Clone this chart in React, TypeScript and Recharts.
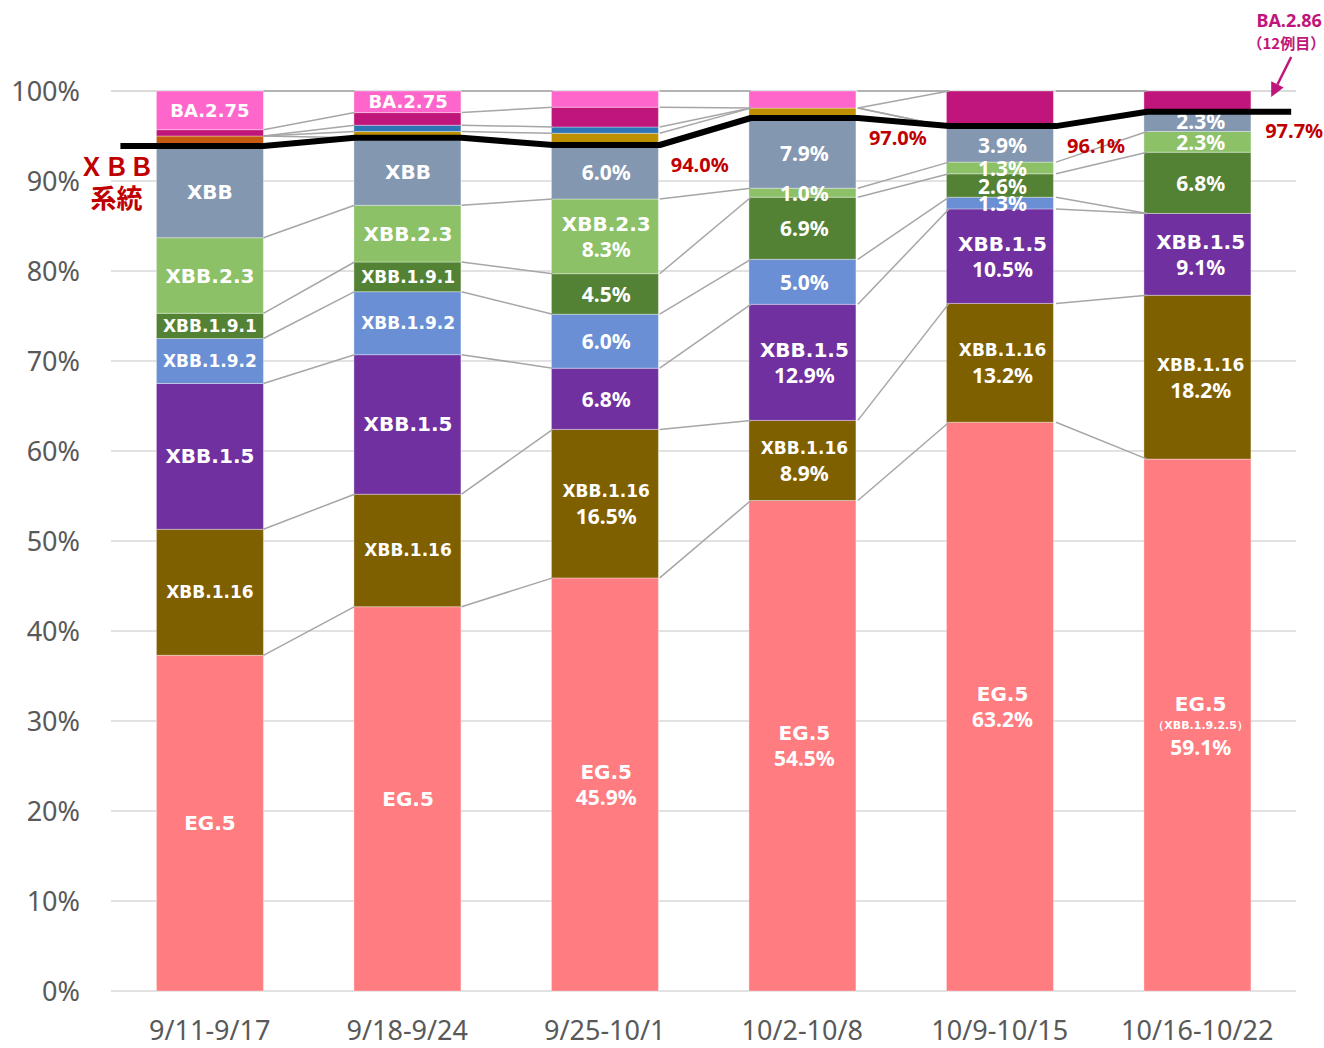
import React from 'react';
import { BarChart, Bar, XAxis, YAxis, CartesianGrid } from 'recharts';

const categories = ['9/11-9/17', '9/18-9/24', '9/25-10/1', '10/2-10/8', '10/9-10/15', '10/16-10/22'];

const eg5 = [37.3, 42.7, 45.9, 54.5, 63.2, 59.1];
const xbb116 = [14.0, 12.5, 16.5, 8.9, 13.2, 18.2];
const xbb15 = [16.2, 15.5, 6.8, 12.9, 10.5, 9.1];
const xbb192 = [5.0, 7.0, 6.0, 5.0, 1.3, 0];
const xbb191 = [2.8, 3.3, 4.5, 6.9, 2.6, 6.8];
const xbb23 = [8.4, 6.3, 8.3, 1.0, 1.3, 2.3];
const xbbBase = [10.2, 7.5, 6.0, 7.9, 3.9, 2.3];
const otherOrange = [1.1, 0, 0, 0, 0, 0];
const otherGold = [0, 0.7, 1.3, 1.0, 0, 0];
const otherBlue = [0, 0.7, 0.7, 0, 0, 0];
const otherMagenta = [0.7, 1.4, 2.2, 0, 4.0, 2.2];
const ba275 = [4.3, 2.4, 1.8, 1.9, 0, 0];

const xbbTotal = [93.9, 94.8, 94.0, 97.0, 96.1, 97.7];
const xbbTotalLabels = ['', '', '94.0%', '97.0%', '96.1%', '97.7%'];

const eg5Labels = ['EG.5', 'EG.5', 'EG.5\n45.9%', 'EG.5\n54.5%', 'EG.5\n63.2%', 'EG.5\n（XBB.1.9.2.5）\n59.1%'];
const xbb116Labels = ['XBB.1.16', 'XBB.1.16', 'XBB.1.16\n16.5%', 'XBB.1.16\n8.9%', 'XBB.1.16\n13.2%', 'XBB.1.16\n18.2%'];
const xbb15Labels = ['XBB.1.5', 'XBB.1.5', '6.8%', 'XBB.1.5\n12.9%', 'XBB.1.5\n10.5%', 'XBB.1.5\n9.1%'];
const xbb192Labels = ['XBB.1.9.2', 'XBB.1.9.2', '6.0%', '5.0%', '1.3%', ''];
const xbb191Labels = ['XBB.1.9.1', 'XBB.1.9.1', '4.5%', '6.9%', '2.6%', '6.8%'];
const xbb23Labels = ['XBB.2.3', 'XBB.2.3', 'XBB.2.3\n8.3%', '1.0%', '1.3%', '2.3%'];
const xbbLabels = ['XBB', 'XBB', '6.0%', '7.9%', '3.9%', '2.3%'];
const ba275Labels = ['BA.2.75', 'BA.2.75', '', '', '', ''];
const emptyLabels = ['', '', '', '', '', ''];

const yTicks = [0, 10, 20, 30, 40, 50, 60, 70, 80, 90, 100];

const xbbSystemLabel = ['ＸＢＢ', '系統'];
const ba286Label = ['BA.2.86', '（12例目）'];

const series = [
  { key: 'eg5', values: eg5, color: '#FF7C80', labels: eg5Labels },
  { key: 'xbb116', values: xbb116, color: '#7F6000', labels: xbb116Labels },
  { key: 'xbb15', values: xbb15, color: '#7030A0', labels: xbb15Labels },
  { key: 'xbb192', values: xbb192, color: '#6A8FD4', labels: xbb192Labels },
  { key: 'xbb191', values: xbb191, color: '#548235', labels: xbb191Labels },
  { key: 'xbb23', values: xbb23, color: '#8CC168', labels: xbb23Labels },
  { key: 'xbb', values: xbbBase, color: '#8497B0', labels: xbbLabels },
  { key: 'orange', values: otherOrange, color: '#C55A11', labels: emptyLabels },
  { key: 'gold', values: otherGold, color: '#BF9000', labels: emptyLabels },
  { key: 'blue', values: otherBlue, color: '#2E75B6', labels: emptyLabels },
  { key: 'magenta', values: otherMagenta, color: '#C0157A', labels: emptyLabels },
  { key: 'ba275', values: ba275, color: '#FF66CC', labels: ba275Labels },
];

const data = categories.map((cat, i) => {
  const row: any = { cat, total: xbbTotal[i] };
  series.forEach((s) => {
    row[s.key] = s.values[i];
  });
  return row;
});

const GAP = 0.23;
const PCT_FONT = "'Noto Sans', 'DejaVu Sans', sans-serif";
const NAME_FONT = "'DejaVu Sans', 'Noto Sans', sans-serif";
const CJK_FONT = "'Noto Sans CJK JP', 'Noto Sans', sans-serif";

function lineStyle(line: string) {
  if (line.startsWith('（')) return { size: 11, lh: 18, font: NAME_FONT };
  if (line.endsWith('%')) return { size: 21, lh: 25, font: PCT_FONT };
  if (line.startsWith('BA')) return { size: 18, lh: 25, font: NAME_FONT };
  if (line.length >= 8) return { size: 17, lh: 25, font: NAME_FONT };
  return { size: 20, lh: 25, font: NAME_FONT };
}

const Overlay = (props: any) => {
  const { x, y, width, height, index } = props;
  if (index !== 0 || !height) return null;
  const n = categories.length;
  const k = height / xbbTotal[0];
  const y0 = y + height;
  const band = width / (1 - 2 * GAP);
  const Y = (v: number) => y0 - v * k;
  const L = (i: number) => x + i * band;
  const R = (i: number) => x + i * band + width;

  const els: any[] = [];

  // connector lines
  const cum: number[][] = [];
  for (let i = 0; i < n; i++) {
    let c = 0;
    cum.push(series.map((s) => (c += s.values[i])));
  }
  series.forEach((s, si) => {
    for (let i = 0; i < n - 1; i++) {
      els.push(
        <line
          key={`c-${si}-${i}`}
          x1={R(i)}
          y1={Y(cum[i][si])}
          x2={L(i + 1)}
          y2={Y(cum[i + 1][si])}
          stroke="#A6A6A6"
          strokeWidth={1.5}
        />
      );
    }
  });

  // segment labels
  series.forEach((s, si) => {
    for (let i = 0; i < n; i++) {
      const text = s.labels[i];
      if (!text) continue;
      const lines = text.split('\n');
      const styles = lines.map(lineStyle);
      const total = styles.reduce((a, b) => a + b.lh, 0);
      const bottom = si === 0 ? 0 : cum[i][si - 1];
      const cy = Y(bottom + s.values[i] / 2);
      let cur = cy - total / 2;
      const cx = L(i) + width / 2;
      lines.forEach((ln, li) => {
        const st = styles[li];
        const ty = cur + st.lh / 2;
        cur += st.lh;
        els.push(
          <text
            key={`t-${si}-${i}-${li}`}
            x={cx}
            y={ty}
            textAnchor="middle"
            dominantBaseline="central"
            fill="#FFFFFF"
            fontFamily={st.font}
            fontWeight={700}
            fontSize={st.size}
          >
            {ln}
          </text>
        );
      });
    }
  });

  // XBB lineage black line
  const pts: string[] = [];
  for (let i = 0; i < n; i++) {
    const yy = Y(xbbTotal[i]);
    pts.push(`${i === 0 ? L(i) - 36 : L(i)},${yy}`);
    pts.push(`${i === n - 1 ? R(i) + 37 : R(i)},${yy}`);
  }
  els.push(
    <polyline key="xbbline" points={pts.join(' ')} fill="none" stroke="#000000" strokeWidth={6} strokeLinejoin="round" />
  );

  // total labels
  for (let i = 0; i < n; i++) {
    if (!xbbTotalLabels[i]) continue;
    els.push(
      <text
        key={`tot-${i}`}
        x={R(i) + 40}
        y={Y(xbbTotal[i]) + 19}
        textAnchor="middle"
        dominantBaseline="central"
        fill="#C00000"
        fontFamily={PCT_FONT}
        fontWeight={700}
        fontSize={20}
      >
        {xbbTotalLabels[i]}
      </text>
    );
  }

  // XBB系統 label
  const y1 = Y(xbbTotal[0]);
  els.push(
    <text key="sys1" x={L(0) - 40} y={y1 + 19} textAnchor="middle" dominantBaseline="central" fill="#C00000" fontFamily={CJK_FONT} fontWeight={700} fontSize={25}>
      {xbbSystemLabel[0]}
    </text>
  );
  els.push(
    <text key="sys2" x={L(0) - 40} y={y1 + 51} textAnchor="middle" dominantBaseline="central" fill="#C00000" fontFamily={CJK_FONT} fontWeight={700} fontSize={26}>
      {xbbSystemLabel[1]}
    </text>
  );

  // BA.2.86 annotation
  const top = Y(100);
  const ax = R(n - 1);
  const mag = '#C0157A';
  els.push(
    <text key="ba1" x={ax + 35} y={top - 71} textAnchor="middle" dominantBaseline="central" fill={mag} fontFamily={PCT_FONT} fontWeight={700} fontSize={18}>
      {ba286Label[0]}
    </text>
  );
  els.push(
    <text key="ba2" x={ax + 71} y={top - 49} textAnchor="end" dominantBaseline="central" fill={mag} fontFamily={CJK_FONT} fontWeight={700} fontSize={15}>
      {ba286Label[1]}
    </text>
  );
  const sx = ax + 37, sy = top - 34, tx = ax + 17, ty = top + 6;
  const dx = tx - sx, dy = ty - sy;
  const len = Math.sqrt(dx * dx + dy * dy);
  const ux = dx / len, uy = dy / len;
  const hl = 14, hw = 7;
  const bx = tx - ux * hl, by = ty - uy * hl;
  els.push(<line key="arr" x1={sx} y1={sy} x2={bx} y2={by} stroke={mag} strokeWidth={2.5} />);
  els.push(
    <polygon
      key="arrh"
      points={`${tx},${ty} ${bx - uy * hw},${by + ux * hw} ${bx + uy * hw},${by - ux * hw}`}
      fill={mag}
    />
  );

  return <g>{els}</g>;
};

export default function App() {
  return (
    <div style={{ position: 'absolute', left: 0, top: 0, width: 1324, height: 1048 }}>
      <BarChart
        width={1324}
        height={1048}
        data={data}
        margin={{ top: 91, right: 28, left: 0, bottom: 0 }}
        barCategoryGap="23%"
      >
        <CartesianGrid vertical={false} stroke="#D9D9D9" strokeWidth={1.5} />
        <XAxis
          dataKey="cat"
          height={57}
          axisLine={false}
          tickLine={false}
          tickSize={6}
          tickMargin={24}
          tick={{ fill: '#595959', fontSize: 27, fontFamily: "'Noto Sans', sans-serif" }}
          interval={0}
        />
        <XAxis xAxisId="ov" dataKey="cat" hide />
        <YAxis
          width={111}
          domain={[0, 100]}
          ticks={yTicks}
          tickFormatter={(v: number) => `${v}%`}
          axisLine={false}
          tickLine={false}
          tickSize={6}
          tickMargin={25}
          tick={{ fill: '#595959', fontSize: 27, fontFamily: "'Noto Sans', sans-serif" }}
          interval={0}
        />
        {series.map((s) => (
          <Bar
            key={s.key}
            dataKey={s.key}
            stackId="a"
            fill={s.color}
            stroke="rgba(255,255,255,0.35)"
            strokeWidth={1}
            isAnimationActive={false}
          />
        ))}
        <Bar xAxisId="ov" dataKey="total" fill="none" shape={Overlay} isAnimationActive={false} />
      </BarChart>
    </div>
  );
}
